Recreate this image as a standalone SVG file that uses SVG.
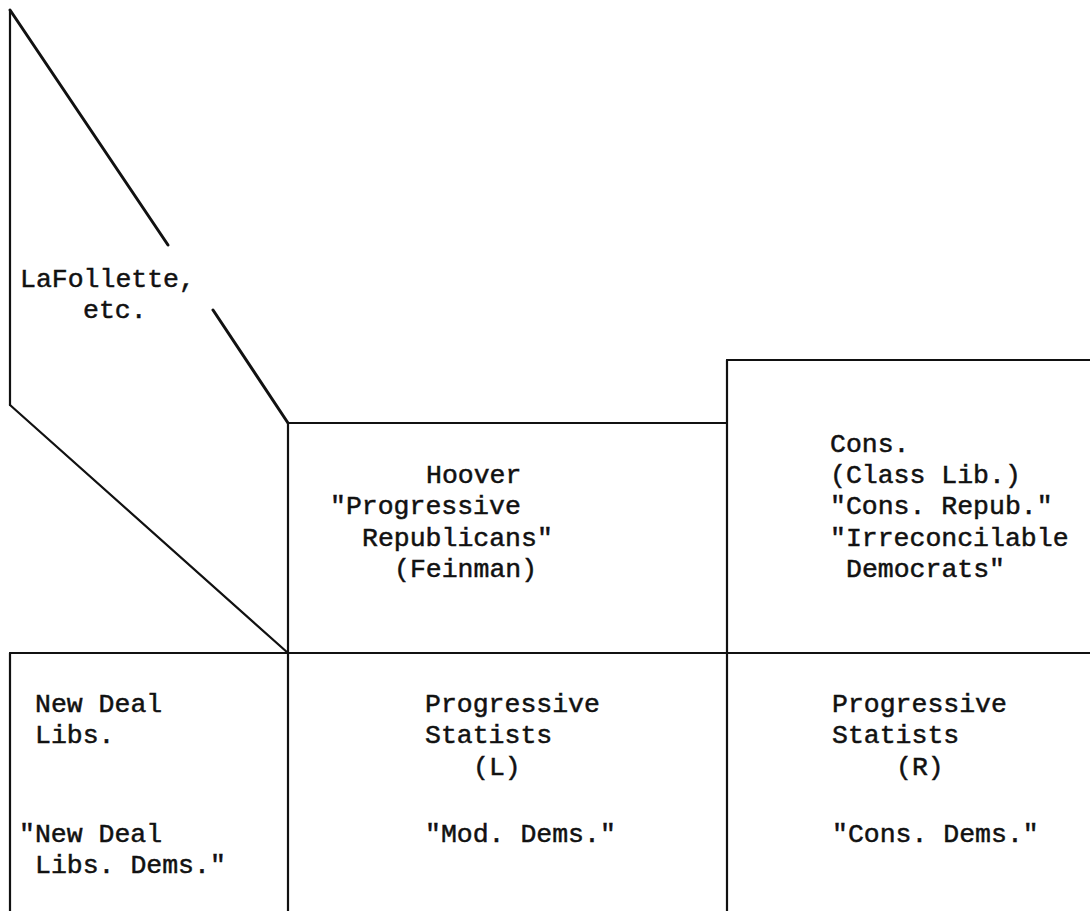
<svg xmlns="http://www.w3.org/2000/svg" width="1090" height="911" viewBox="0 0 1090 911">
<style>
.t{font-family:"Courier New","Liberation Mono",monospace;font-size:26.5px;fill:#111;stroke:#111;stroke-width:0.5}
.ln{stroke:#111;stroke-width:2.2;fill:none;stroke-linecap:round;stroke-linejoin:round}
.dg{stroke:#111;stroke-width:3;fill:none;stroke-linecap:round}
</style>
<rect width="1090" height="911" fill="#fff"/>
<g id="connectors">
<line class="ln" x1="10" y1="10" x2="10" y2="405"/>
<line class="dg" x1="10" y1="10" x2="168" y2="245"/>
<line class="dg" x1="213" y1="310" x2="288" y2="423"/>
<line class="ln" x1="10" y1="405" x2="288" y2="653"/>
<line class="ln" x1="288" y1="423" x2="727" y2="423"/>
<line class="ln" x1="727" y1="360" x2="1090" y2="360"/>
<line class="ln" x1="288" y1="423" x2="288" y2="911"/>
<line class="ln" x1="727" y1="360" x2="727" y2="911"/>
<line class="ln" x1="10" y1="653" x2="1090" y2="653"/>
<line class="ln" x1="10" y1="653" x2="10" y2="911"/>
</g>
<g id="lafollette">
<text class="t" x="20" y="287">LaFollette,</text>
<text class="t" x="83" y="318">etc.</text>
</g>
<g id="hoover">
<text class="t" x="426" y="483">Hoover</text>
<text class="t" x="330" y="514">"Progressive</text>
<text class="t" x="362" y="546">Republicans"</text>
<text class="t" x="394" y="577">(Feinman)</text>
</g>
<g id="cons">
<text class="t" x="830" y="452">Cons.</text>
<text class="t" x="830" y="483">(Class Lib.)</text>
<text class="t" x="830" y="514">"Cons. Repub."</text>
<text class="t" x="830" y="546">"Irreconcilable</text>
<text class="t" x="846" y="577">Democrats"</text>
</g>
<g id="newdeal">
<text class="t" x="35" y="712">New Deal</text>
<text class="t" x="35" y="743">Libs.</text>
<text class="t" x="19" y="842">"New Deal</text>
<text class="t" x="35" y="873">Libs. Dems."</text>
</g>
<g id="prog-l">
<text class="t" x="425" y="712">Progressive</text>
<text class="t" x="425" y="743">Statists</text>
<text class="t" x="473" y="775">(L)</text>
<text class="t" x="425" y="842">"Mod. Dems."</text>
</g>
<g id="prog-r">
<text class="t" x="832" y="712">Progressive</text>
<text class="t" x="832" y="743">Statists</text>
<text class="t" x="896" y="775">(R)</text>
<text class="t" x="832" y="842">"Cons. Dems."</text>
</g>
</svg>
